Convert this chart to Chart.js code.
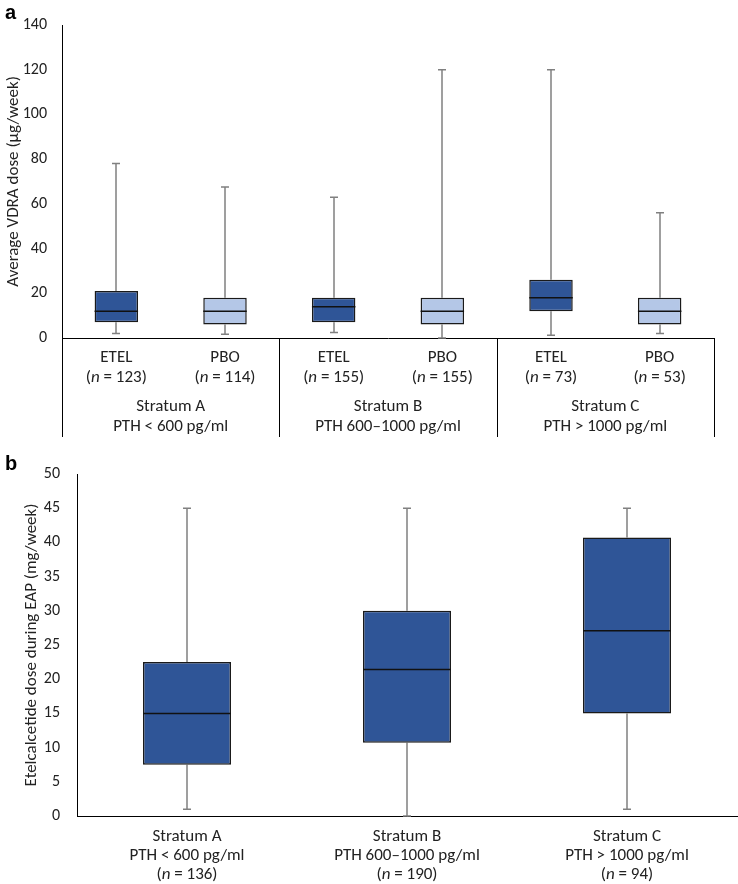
<!DOCTYPE html>
<html>
<head>
<meta charset="utf-8">
<script src="https://cdn.jsdelivr.net/npm/chart.js@4/dist/chart.umd.min.js"></script>
<style>
  html, body { margin: 0; padding: 0; background: #fff; }
  canvas { display: block; }
</style>
</head>
<body>
<canvas id="chartA" width="738" height="445"></canvas>
<canvas id="chartB" width="738" height="439"></canvas>
<script>
// ---------- Data: panel a ----------
const aGroups = ['ETEL', 'PBO', 'ETEL', 'PBO', 'ETEL', 'PBO'];
const aCounts = [123, 114, 155, 155, 73, 53];
const aMin    = [2, 1.7, 2.5, 0, 1.2, 2];
const aQ1     = [7, 6, 7, 6, 12, 6];
const aMedian = [12, 12, 14, 12, 18, 12];
const aQ3     = [21, 18, 18, 18, 26, 18];
const aMax    = [78, 67.5, 63, 120, 120, 56];
const aTicks  = [0, 20, 40, 60, 80, 100, 120, 140];

// ---------- Data: panel b ----------
const strata    = ['Stratum A', 'Stratum B', 'Stratum C'];
const strataPTH = ['PTH < 600 pg/ml', 'PTH 600\u20131000 pg/ml', 'PTH > 1000 pg/ml'];
const bCounts = [136, 190, 94];
const bMin    = [1, 0, 1];
const bQ1     = [7.5, 10.7, 15];
const bMedian = [15, 21.4, 27.1];
const bQ3     = [22.5, 30, 40.7];
const bMax    = [45, 45, 45];
const bTicks  = [0, 5, 10, 15, 20, 25, 30, 35, 40, 45, 50];

const DARK = '#2F5597';
const LIGHT = '#B4C7E7';
const FONT = "Carlito, Lato, 'Open Sans', sans-serif";
const TXT = '#222';
const LBL = 17;

function drawNLabel(ctx, x, y, n, size) {
  const parts = [['(', 'normal'], ['n', 'italic'], [' = ' + n + ')', 'normal']];
  let total = 0;
  const widths = parts.map(([t, s]) => {
    ctx.font = s + ' ' + size + 'px ' + FONT;
    const w = ctx.measureText(t).width;
    total += w;
    return w;
  });
  let cx = x - total / 2;
  ctx.textAlign = 'left';
  parts.forEach(([t, s], i) => {
    ctx.font = s + ' ' + size + 'px ' + FONT;
    ctx.fillText(t, cx, y);
    cx += widths[i];
  });
}

const boxPlugin = {
  id: 'boxExtras',
  beforeDatasetsDraw(chart, args, o) {
    const ctx = chart.ctx, xs = chart.scales.x, ys = chart.scales.y;
    ctx.save();
    ctx.strokeStyle = '#808080';
    ctx.lineWidth = 1.5;
    o.min.forEach((mn, i) => {
      const x = Math.round(xs.getPixelForValue(i));
      const yMin = ys.getPixelForValue(mn), yMax = ys.getPixelForValue(o.max[i]);
      const yQ1 = ys.getPixelForValue(o.q1[i]), yQ3 = ys.getPixelForValue(o.q3[i]);
      ctx.beginPath();
      ctx.moveTo(x, yMax); ctx.lineTo(x, yQ3);
      ctx.moveTo(x, yQ1); ctx.lineTo(x, yMin);
      ctx.moveTo(x - o.cap, yMax); ctx.lineTo(x + o.cap, yMax);
      ctx.moveTo(x - o.cap, yMin); ctx.lineTo(x + o.cap, yMin);
      ctx.stroke();
    });
    ctx.restore();
  },
  afterDatasetsDraw(chart, args, o) {
    const ctx = chart.ctx, ys = chart.scales.y;
    const meta = chart.getDatasetMeta(0);
    ctx.save();
    ctx.strokeStyle = '#111';
    ctx.lineWidth = 1.5;
    o.median.forEach((m, i) => {
      const bar = meta.data[i];
      const y = ys.getPixelForValue(m);
      ctx.beginPath();
      ctx.moveTo(bar.x - bar.width / 2, y);
      ctx.lineTo(bar.x + bar.width / 2, y);
      ctx.stroke();
    });
    ctx.restore();
  },
  afterDraw(chart, args, o) {
    const ctx = chart.ctx;
    ctx.save();
    ctx.fillStyle = TXT;
    ctx.textBaseline = 'middle';
    o.drawLabels(ctx, chart);
    // panel letter
    ctx.font = 'bold 20px ' + "'Liberation Sans', Arial, sans-serif";
    ctx.textAlign = 'left';
    ctx.textBaseline = 'alphabetic';
    ctx.fillStyle = '#000';
    ctx.fillText(o.letter, 5, o.letterY);
    ctx.restore();
  }
};

function yScaleOpts(title, min, max, width, ticksArr, pad) {
  return {
    min: min, max: max,
    afterBuildTicks: s => { s.ticks = ticksArr.map(v => ({ value: v })); },
    afterFit: s => { s.width = width; },
    grid: { display: false, drawTicks: false },
    border: { display: true, color: '#000', width: 1 },
    ticks: { color: TXT, font: { family: FONT, size: 16 }, padding: pad },
    title: { display: true, text: title, color: TXT, font: { family: FONT, size: 17 }, padding: { top: 0, bottom: 0 } }
  };
}

// ---------- Panel a ----------
new Chart(document.getElementById('chartA'), {
  type: 'bar',
  data: {
    labels: aGroups,
    datasets: [{
      data: aQ1.map((q, i) => [q, aQ3[i]]),
      backgroundColor: aGroups.map(g => g === 'ETEL' ? DARK : LIGHT),
      borderColor: '#1a1a1a',
      borderWidth: 1.5,
      borderSkipped: false,
      barPercentage: 0.4,
      categoryPercentage: 1.0
    }]
  },
  options: {
    responsive: false,
    animation: false,
    layout: { padding: { left: 4, right: 24, top: 25, bottom: 7 } },
    plugins: {
      legend: { display: false },
      tooltip: { enabled: false },
      boxExtras: {
        min: aMin, max: aMax, q1: aQ1, q3: aQ3, median: aMedian, cap: 4,
        letter: 'a', letterY: 19,
        drawLabels(ctx, chart) {
          const xs = chart.scales.x, area = chart.chartArea;
          aGroups.forEach((g, i) => {
            const x = xs.getPixelForValue(i);
            ctx.font = 'normal ' + LBL + 'px ' + FONT;
            ctx.textAlign = 'center';
            ctx.fillText(g, x, 358);
            drawNLabel(ctx, x, 378, aCounts[i], LBL);
          });
          const step = xs.getPixelForValue(1) - xs.getPixelForValue(0);
          strata.forEach((s, k) => {
            const x = (xs.getPixelForValue(2 * k) + xs.getPixelForValue(2 * k + 1)) / 2;
            ctx.font = 'normal ' + LBL + 'px ' + FONT;
            ctx.textAlign = 'center';
            ctx.fillText(s, x, 407);
            ctx.fillText(strataPTH[k], x, 427);
          });
          // separator lines of the category table
          ctx.strokeStyle = '#000';
          ctx.lineWidth = 1;
          const seps = [area.left];
          for (let k = 0; k < strata.length; k++) {
            seps.push(xs.getPixelForValue(2 * k + 1) + step / 2);
          }
          ctx.beginPath();
          seps.forEach(sx => {
            const px = Math.round(sx) + 0.5;
            ctx.moveTo(px, area.bottom);
            ctx.lineTo(px, 437);
          });
          ctx.stroke();
        }
      }
    },
    scales: {
      x: {
        grid: { display: false, drawTicks: false },
        border: { display: true, color: '#000', width: 1 },
        ticks: { display: false },
        afterFit: s => { s.height = 100; }
      },
      y: yScaleOpts('Average VDRA dose (\u00b5g/week)', 0, 140, 58, aTicks, 15)
    }
  },
  plugins: [boxPlugin]
});

// ---------- Panel b ----------
new Chart(document.getElementById('chartB'), {
  type: 'bar',
  data: {
    labels: strata,
    datasets: [{
      data: bQ1.map((q, i) => [q, bQ3[i]]),
      backgroundColor: DARK,
      borderColor: '#1a1a1a',
      borderWidth: 1.5,
      borderSkipped: false,
      barPercentage: 0.4,
      categoryPercentage: 1.0
    }]
  },
  options: {
    responsive: false,
    animation: false,
    layout: { padding: { left: 22, right: 1, top: 29, bottom: 0 } },
    plugins: {
      legend: { display: false },
      tooltip: { enabled: false },
      boxExtras: {
        min: bMin, max: bMax, q1: bQ1, q3: bQ3, median: bMedian, cap: 4,
        letter: 'b', letterY: 25,
        drawLabels(ctx, chart) {
          const xs = chart.scales.x;
          strata.forEach((s, i) => {
            const x = xs.getPixelForValue(i);
            ctx.font = 'normal ' + LBL + 'px ' + FONT;
            ctx.textAlign = 'center';
            ctx.fillText(s, x, 392);
            ctx.fillText(strataPTH[i], x, 411);
            drawNLabel(ctx, x, 430, bCounts[i], LBL);
          });
        }
      }
    },
    scales: {
      x: {
        grid: { display: false, drawTicks: false },
        border: { display: true, color: '#000', width: 1 },
        ticks: { display: false },
        afterFit: s => { s.height = 68; }
      },
      y: yScaleOpts('Etelcalcetide dose during EAP (mg/week)', 0, 50, 55, bTicks, 17)
    }
  },
  plugins: [boxPlugin]
});
</script>
</body>
</html>
